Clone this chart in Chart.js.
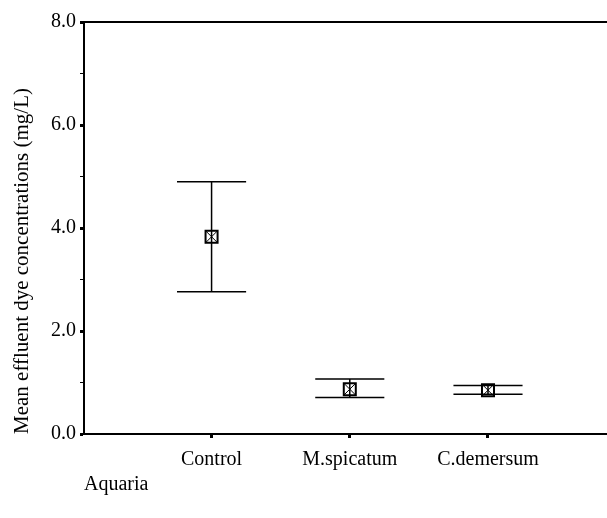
<!DOCTYPE html>
<html>
<head>
<meta charset="utf-8">
<script src="https://cdn.jsdelivr.net/npm/chart.js@4.4.0/dist/chart.umd.min.js"></script>
<style>
  html, body { margin: 0; padding: 0; background: #fff; }
  #wrap { width: 607px; height: 518px; }
</style>
</head>
<body>
<div id="wrap"><canvas id="myChart" width="607" height="518"></canvas></div>
<script>
// group means with their error bar ends (mg/L)
const categories = ['Control', 'M.spicatum', 'C.demersum'];
const means = [3.83, 0.87, 0.85];
const upper = [4.90, 1.07, 0.94];
const lower = [2.76, 0.71, 0.77];
const yMajorTicks = [0, 2, 4, 6, 8];

Chart.defaults.font.family = "'Liberation Serif', 'Times New Roman', serif";
Chart.defaults.font.size = 20;
Chart.defaults.color = '#000';

const points = categories.map((c, i) => ({ x: i, y: means[i] }));

// whiskers with caps, drawn through the chart scales
const errorBars = {
    id: 'errorBars',
    afterDatasetsDraw(chart) {
        const { ctx, scales: { x, y } } = chart;
        ctx.save();
        ctx.strokeStyle = '#000';
        ctx.lineWidth = 1.5;
        categories.forEach((c, i) => {
            const px = x.getPixelForValue(i);
            const left = x.getPixelForValue(i - 0.25);
            const right = x.getPixelForValue(i + 0.25);
            const top = y.getPixelForValue(upper[i]);
            const bot = y.getPixelForValue(lower[i]);
            ctx.beginPath();
            ctx.moveTo(px, top); ctx.lineTo(px, bot);
            ctx.moveTo(left, top); ctx.lineTo(right, top);
            ctx.moveTo(left, bot); ctx.lineTo(right, bot);
            ctx.stroke();
        });
        ctx.restore();
    }
};

const config = {
    type: 'scatter',
    data: {
        datasets: [{
            label: 'Mean',
            data: points,
            pointStyle: 'rect',
            pointRadius: 8.5,
            borderColor: '#000',
            backgroundColor: 'rgba(0,0,0,0)',
            borderWidth: 2,
        }, {
            label: 'Mean cross',
            data: points,
            pointStyle: 'crossRot',
            pointRadius: 8.5,
            borderColor: '#000',
            borderWidth: 1,
        }],
    },
    options: {
        responsive: false,
        animation: false,
        devicePixelRatio: 1,
        layout: { autoPadding: false, padding: { top: 22, left: 0, right: 0, bottom: 0 } },
        plugins: {
            legend: { display: false },
            tooltip: { enabled: false },
        },
        scales: {
            x: {
                type: 'linear',
                position: 'bottom',
                min: -0.923,
                max: 2.861,
                afterBuildTicks: (scale) => {
                    scale.ticks = categories.map((c, i) => ({ value: i }));
                },
                afterFit: (scale) => {
                    scale.height = 84;
                    scale.paddingLeft = 0;
                    scale.paddingRight = 0;
                },
                ticks: {
                    padding: 10,
                    maxRotation: 0,
                    autoSkip: false,
                    callback: (v) => categories[v] ?? '',
                },
                grid: {
                    drawOnChartArea: false,
                    tickLength: 4,
                    tickWidth: 3,
                    tickColor: '#000',
                },
                border: { display: true, color: '#000', width: 2 },
                title: {
                    display: true,
                    text: 'Aquaria',
                    align: 'start',
                    padding: { top: 0, bottom: 21 },
                },
            },
            xTop: {
                type: 'linear',
                position: 'top',
                min: 0,
                max: 1,
                afterFit: (scale) => {
                    scale.height = 0;
                    scale.paddingLeft = 0;
                    scale.paddingRight = 0;
                },
                ticks: { display: false },
                grid: { display: false },
                border: { display: true, color: '#000', width: 2 },
            },
            y: {
                min: 0,
                max: 8,
                afterFit: (scale) => {
                    scale.width = 84;
                    scale.paddingTop = 0;
                    scale.paddingBottom = 0;
                },
                ticks: {
                    stepSize: 0.5,
                    padding: 4,
                    callback: (v) => yMajorTicks.includes(v) ? v.toFixed(1) : '',
                },
                grid: {
                    drawOnChartArea: false,
                    tickLength: 4,
                    tickWidth: (ctx) => yMajorTicks.includes(ctx.tick.value) ? 3 : 1,
                    tickColor: '#000',
                },
                border: { display: true, color: '#000', width: 2 },
                title: {
                    display: true,
                    text: 'Mean effluent dye concentrations (mg/L)',
                    align: 'start',
                    font: { size: 21 },
                    padding: { top: 10, bottom: 0 },
                },
            },
        },
    },
    plugins: [errorBars],
};

const ctx = document.getElementById('myChart').getContext('2d');
const myChart = new Chart(ctx, config);
</script>
</body>
</html>
